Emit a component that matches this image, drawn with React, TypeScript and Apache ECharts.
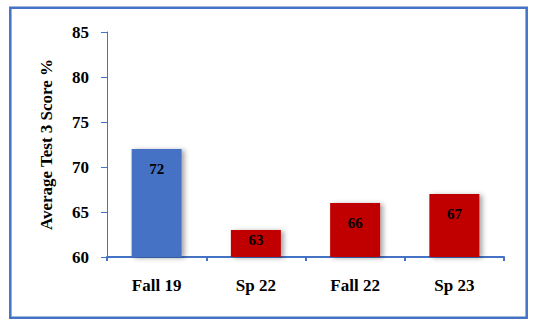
import React, { useEffect, useRef } from "react";
import * as echarts from "echarts";

const categories = ["Fall 19", "Sp 22", "Fall 22", "Sp 23"];
const scores = [72, 63, 66, 67];
const barColors = ["#4472C4", "#C00000", "#C00000", "#C00000"];
const yMin = 60;
const yMax = 85;
const yStep = 5;
const yAxisName = "Average Test 3 Score %";

export default function App() {
  const ref = useRef<HTMLDivElement>(null);
  useEffect(() => {
    if (!ref.current) return;
    const chart = echarts.init(ref.current, null, { renderer: "svg" });
    const font = "Liberation Serif";
    chart.setOption({
      animation: false,
      backgroundColor: "#ffffff",
      graphic: [
        {
          type: "rect",
          shape: { x: 10.3, y: 7.8, width: 516.4, height: 310 },
          style: { fill: "none", stroke: "#4472C4", lineWidth: 2.5 },
          silent: true,
        },
      ],
      grid: { left: 107, right: 35, top: 32, bottom: 70 },
      xAxis: {
        type: "category",
        data: categories,
        axisLine: { lineStyle: { color: "#4472C4", width: 2 } },
        axisTick: { show: true, length: 4, lineStyle: { color: "#4472C4", width: 2 } },
        axisLabel: {
          color: "#000",
          fontFamily: font,
          fontWeight: "bold",
          fontSize: 17,
          margin: 20,
        },
      },
      yAxis: {
        type: "value",
        min: yMin,
        max: yMax,
        interval: yStep,
        name: yAxisName,
        nameLocation: "middle",
        nameGap: 52,
        nameTextStyle: {
          color: "#000",
          fontFamily: font,
          fontWeight: "bold",
          fontSize: 17,
        },
        splitLine: { show: false },
        axisLine: { show: true, lineStyle: { color: "#4472C4", width: 1 } },
        axisTick: { show: true, length: 6, lineStyle: { color: "#4472C4", width: 1 } },
        axisLabel: {
          color: "#000",
          fontFamily: font,
          fontWeight: "bold",
          fontSize: 17,
          margin: 18,
        },
      },
      series: [
        {
          type: "bar",
          barWidth: 50,
          data: scores.map((v, i) => ({
            value: v,
            itemStyle: { color: barColors[i] },
            label: { distance: v - yMin < 5 ? 2 : 12 },
          })),
          itemStyle: {
            shadowBlur: 5,
            shadowOffsetX: 3,
            shadowOffsetY: 1,
            shadowColor: "rgba(0,0,0,0.35)",
          },
          label: {
            show: true,
            position: "insideTop",
            color: "#000",
            fontFamily: font,
            fontWeight: "bold",
            fontSize: 15,
          },
        },
      ],
    });
    return () => chart.dispose();
  }, []);
  return (
    <div
      ref={ref}
      style={{ position: "fixed", left: 0, top: 0, width: 539, height: 327 }}
    />
  );
}
